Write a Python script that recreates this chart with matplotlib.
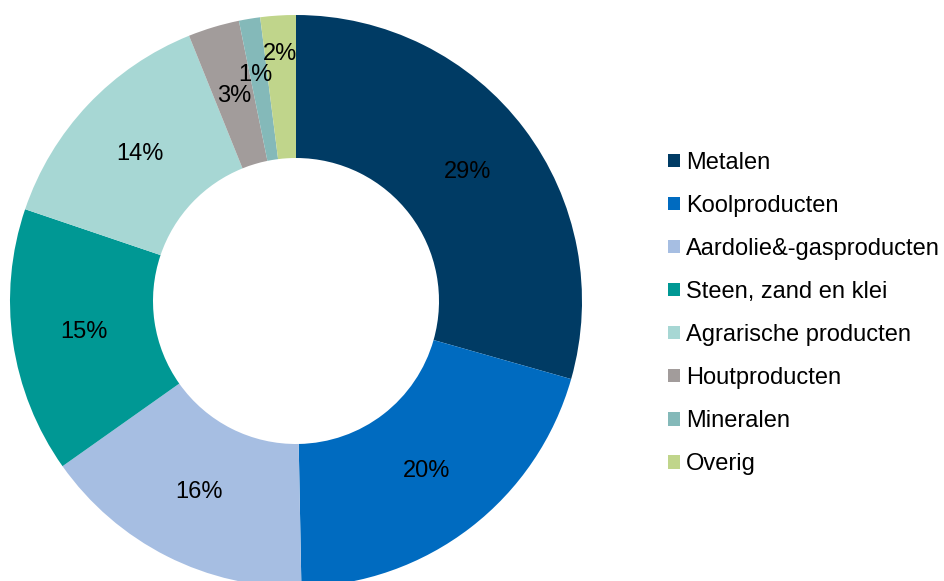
import numpy as np
import matplotlib
matplotlib.use('Agg')
import matplotlib.pyplot as plt

plt.rcParams['font.family'] = ['Liberation Sans', 'DejaVu Sans']

# Data
categories = ['Metalen', 'Koolproducten', 'Aardolie&-gasproducten',
              'Steen, zand en klei', 'Agrarische producten', 'Houtproducten',
              'Mineralen', 'Overig']
shares = [29.4, 20.3, 15.5, 15.0, 13.7, 2.9, 1.2, 2.0]
labels = ['29%', '20%', '16%', '15%', '14%', '3%', '1%', '2%']

colors = ['#003B64', '#006BC0', '#A6BEE2', '#009894',
          '#A7D7D4', '#A29C9B', '#84B9B9', '#C0D58B']
# radial position of each percentage label (small slices pushed outward)
label_r = [0.75, 0.75, 0.75, 0.75, 0.75, 0.75, 0.80, 0.865]

W, H = 944, 581
fig = plt.figure(figsize=(W / 100, H / 100), dpi=100)
fig.patch.set_facecolor('white')

cx, cy, R = 296, 301, 286
ax = fig.add_axes([(cx - R) / W, (H - cy - R) / H, 2 * R / W, 2 * R / H])

wedges, _ = ax.pie(shares, colors=colors, startangle=90, counterclock=False,
                   radius=1.0, wedgeprops=dict(width=0.5, linewidth=0))
ax.set_xlim(-1, 1)
ax.set_ylim(-1, 1)
ax.axis('off')

for w, lab, r in zip(wedges, labels, label_r):
    ang = np.deg2rad((w.theta1 + w.theta2) / 2)
    ax.text(r * np.cos(ang) - (0.012 if lab == '1%' else 0), r * np.sin(ang),
            lab, ha='center', va='center', fontsize=17, color='black')

leg = fig.legend(wedges, categories, loc='upper left',
                 bbox_to_anchor=(668 / W, 1 - 152 / H), frameon=False,
                 fontsize=17, handlelength=0.51, handleheight=0.51,
                 handletextpad=0.26, labelspacing=0.89, borderpad=0,
                 borderaxespad=0)

plt.savefig('out.png', dpi=100, facecolor='white')
plt.close()
